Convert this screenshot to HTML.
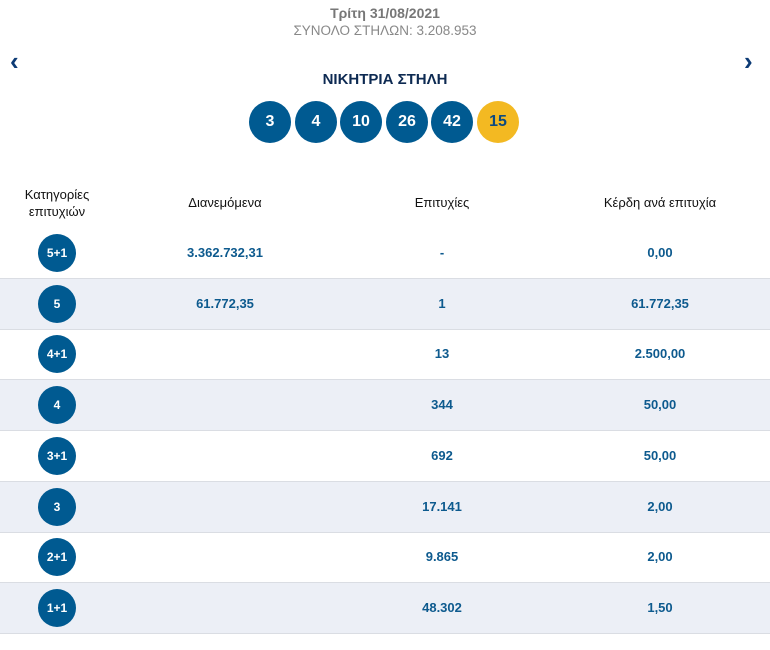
<!DOCTYPE html>
<html><head><meta charset="utf-8"><style>
body{margin:0;width:770px;height:650px;background:#fff;font-family:"Liberation Sans",Arial,sans-serif;position:relative;overflow:hidden}
.a{position:absolute}
.c{text-align:center}
.ball{position:absolute;width:42px;height:42px;border-radius:50%;background:#005a91;color:#fff;font-weight:bold;font-size:16px;line-height:42px;text-align:center;top:101px}
.row{position:absolute;left:0;width:770px;height:50px;border-bottom:1px solid #dadde3}
.row.alt{background:#eceff6}
.cat{position:absolute;left:38px;top:6px;width:38px;height:38px;border-radius:50%;background:#005a91;color:#fff;font-weight:bold;font-size:12px;line-height:38px;text-align:center}
.v{position:absolute;top:0;line-height:50px;font-weight:bold;font-size:13px;color:#0d5a8e;text-align:center;width:200px}
.h{position:absolute;font-size:13px;color:#111;text-align:center}
</style></head><body>
<div class="a c" style="left:0;width:770px;top:5px;font-size:14px;font-weight:bold;color:#777">Τρίτη 31/08/2021</div>
<div class="a c" style="left:0;width:770px;top:23px;font-size:13.5px;color:#888">ΣΥΝΟΛΟ ΣΤΗΛΩΝ: 3.208.953</div>
<div class="a" style="left:10px;top:46px;font-size:26px;color:#0d3b75;font-weight:bold">‹</div>
<div class="a" style="left:744px;top:46px;font-size:26px;color:#0d3b75;font-weight:bold">›</div>
<div class="a c" style="left:0;width:770px;top:71px;font-size:15px;font-weight:bold;color:#0d2a52">ΝΙΚΗΤΡΙΑ ΣΤΗΛΗ</div>
<div class="ball" style="left:249px">3</div>
<div class="ball" style="left:295px">4</div>
<div class="ball" style="left:340px">10</div>
<div class="ball" style="left:386px">26</div>
<div class="ball" style="left:431px">42</div>
<div class="ball" style="left:477px;background:#f3b922;color:#0d4a80">15</div>
<div class="h" style="left:7px;width:100px;top:186px;line-height:17px">Κατηγορίες<br>επιτυχιών</div>
<div class="h" style="left:125px;width:200px;top:195px">Διανεμόμενα</div>
<div class="h" style="left:342px;width:200px;top:195px">Επιτυχίες</div>
<div class="h" style="left:560px;width:200px;top:195px">Κέρδη ανά επιτυχία</div>
<div id="rows"></div>
<script>
const cats=["5+1","5","4+1","4","3+1","3","2+1","1+1"];
const dist=["3.362.732,31","61.772,35","","","","","",""];
const wins=["-","1","13","344","692","17.141","9.865","48.302"];
const prizes=["0,00","61.772,35","2.500,00","50,00","50,00","2,00","2,00","1,50"];
const box=document.getElementById('rows');
cats.forEach((c,i)=>{
 const r=document.createElement('div');
 r.className='row'+(i%2?' alt':'');
 r.style.top=(228+i*50.7)+'px';
 
 
 r.innerHTML='<div class="cat">'+c+'</div>'+
 '<div class="v" style="left:125px">'+dist[i]+'</div>'+
 '<div class="v" style="left:342px">'+wins[i]+'</div>'+
 '<div class="v" style="left:560px">'+prizes[i]+'</div>';
 box.appendChild(r);
});
</script>
</body></html>
